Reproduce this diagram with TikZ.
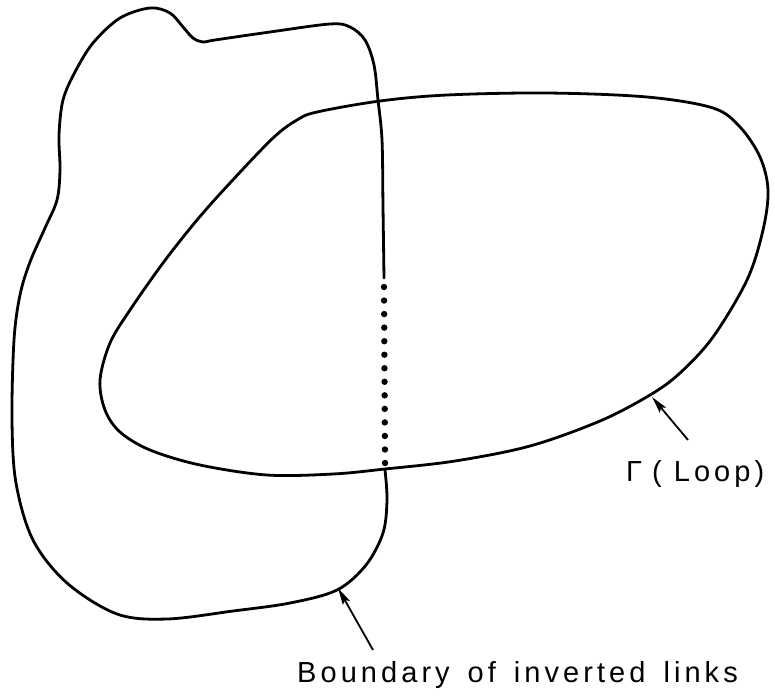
\documentclass[tikz,border=0pt]{standalone}
\usepackage{fontspec}
\setmainfont{Liberation Sans}
\newfontfamily\labfont[LetterSpace=14]{Liberation Sans}
\usetikzlibrary{arrows.meta}
\tikzset{
  curve/.style={line width=2.8pt, line join=round, line cap=round},
  pointer/.style={line width=1.8pt, -{Stealth[length=17pt,width=8pt,inset=3pt]}},
  lab/.style={inner sep=0pt, font=\labfont}
}
\begin{document}
\begin{tikzpicture}[x=1pt,y=-1pt]
\useasboundingbox (0,0) rectangle (775,699);
% left blob (boundary of inverted links), solid part
\draw[curve] plot[smooth, tension=0.55] coordinates {
 (385,470) (387,500) (383,533) (366,565) (337,590) (290,603)
 (233,611) (167,619) (117,614) (67,583) (33,540) (16,483) (12,420)
 (14,340) (20,295) (30,262) (45,228) (57,200) (60,170) (59,135)
 (63,100) (75,72) (93,43) (120,18) (150,8) (170,13) (183,27) (193,38)
 (203,42) (215,40) (270,32) (330,24) (350,27) (365,40) (374,65)
 (378,100) (382,140) (383,207) (384,278)};
% dotted part
\foreach \i in {0,...,13}
  \fill (384+\i*0.08, 287+\i*13.54) circle[radius=3.2pt];
% loop Gamma
\draw[curve] plot[smooth cycle, tension=0.55] coordinates {
 (380,101) (447,95) (547,93) (647,97) (713,108) (740,127) (760,157)
 (768,190) (763,230) (747,280) (713,337) (680,373) (650,395)
 (600,421) (530,446) (455,461) (385,469) (333,474) (267,475) (200,465)
 (150,450) (120,432) (105,410) (100,380) (110,343) (130,310) (163,263)
 (197,220) (230,183) (273,138) (297,120) (317,112)};
% labels and pointers
\coordinate (gtip) at (652,397);
\coordinate (gtail) at (688,440);
\coordinate (btip) at (338,588);
\coordinate (btail) at (373,650);
\node[lab, font=\labfont\fontsize{29}{33}\selectfont, anchor=base west] (glab) at (626,481) {Γ\hspace{10pt}(\hspace{12pt}Loop)};
\node[lab, font=\labfont\fontsize{29}{34}\selectfont, anchor=base west] (blab) at (297,682) {Boundary\hspace{18pt}of\hspace{18pt}inverted\hspace{18pt}links};
\draw[pointer] (gtail) -- (gtip);
\draw[pointer] (btail) -- (btip);
\end{tikzpicture}
\end{document}
